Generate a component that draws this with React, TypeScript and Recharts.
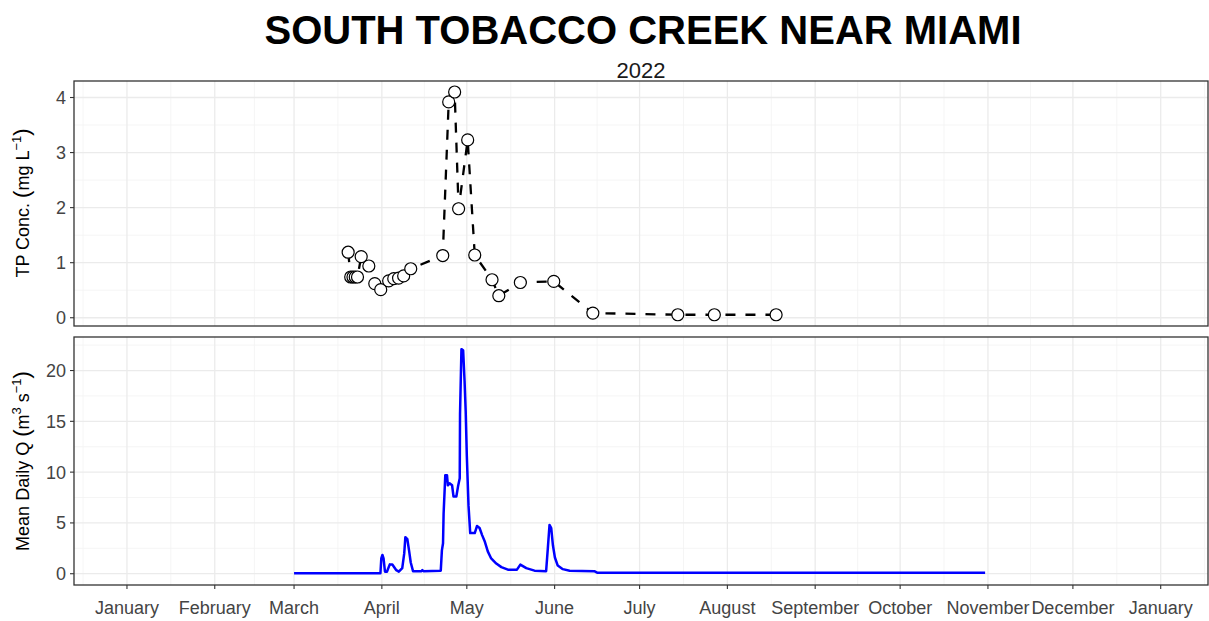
import React from 'react';
import { LineChart, Line, XAxis, YAxis, CartesianGrid } from 'recharts';

// ---- data ----
const monthTicks = [0, 31, 59, 90, 120, 151, 181, 212, 243, 273, 304, 334, 365];
const monthLabels = ['January', 'February', 'March', 'April', 'May', 'June', 'July', 'August', 'September', 'October', 'November', 'December', 'January'];

const tpDays = [78.1, 79.0, 79.8, 80.6, 81.4, 82.7, 85.4, 87.5, 89.6, 92.4, 94.2, 95.9, 97.7, 100.2, 111.5, 113.6, 115.7, 117.1, 120.3, 122.8, 128.9, 131.3, 138.9, 150.7, 164.5, 194.5, 207.4, 229.2];
const tpValues = [1.19, 0.74, 0.74, 0.74, 0.74, 1.11, 0.94, 0.62, 0.51, 0.67, 0.71, 0.72, 0.76, 0.89, 1.13, 3.92, 4.1, 1.98, 3.23, 1.14, 0.69, 0.40, 0.64, 0.66, 0.085, 0.054, 0.054, 0.054];

const qDays = [59, 89.5, 89.8, 90.2, 90.6, 91.1, 91.8, 92.8, 93.7, 95.1, 96, 97.2, 97.9, 98.3, 99, 99.6, 100.2, 101, 104, 104.3, 104.7, 110.8, 111.2, 111.6, 111.8, 112.4, 113, 113.3, 113.9, 114.8, 115.3, 116.3, 116.9, 117.5, 117.6, 118.1, 118.7, 119.2, 119.6, 120, 120.6, 121.2, 122.8, 123.6, 124.5, 125.4, 126.3, 127.4, 128.6, 130.4, 132.2, 134.5, 137.7, 138.9, 141, 143.9, 148, 148.6, 149.2, 149.8, 150.4, 151.1, 152.1, 153.9, 156.3, 165, 166, 303];
const qValues = [0.05, 0.05, 1.5, 1.85, 1.5, 0.2, 0.2, 0.92, 0.9, 0.35, 0.2, 0.55, 2.0, 3.6, 3.4, 2.3, 1.1, 0.25, 0.25, 0.35, 0.25, 0.3, 2.3, 3.0, 5.9, 9.7, 9.7, 8.7, 8.9, 8.7, 7.6, 7.6, 8.6, 9.4, 15.7, 22.1, 22.0, 19.0, 16.0, 11.6, 6.7, 4.0, 4.0, 4.7, 4.5, 3.8, 3.2, 2.2, 1.5, 1.0, 0.65, 0.4, 0.4, 0.9, 0.55, 0.3, 0.25, 2.5, 4.8, 4.5, 2.8, 1.6, 0.8, 0.45, 0.3, 0.25, 0.1, 0.1];

const tpTicks = [0, 1, 2, 3, 4];
const tpMinor = [0.5, 1.5, 2.5, 3.5];
const qTicks = [0, 5, 10, 15, 20];
const qMinor = [2.5, 7.5, 12.5, 17.5, 22.5];

// ---- derived ----
const tpData = tpDays.map((d, i) => ({ d, v: tpValues[i] }));
const qData = qDays.map((d, i) => ({ d, v: qValues[i] }));
const xDomain = [-18.7, 381.7];
const allMonthBounds = [-31, ...monthTicks, 396];
const xMinor = allMonthBounds.slice(0, -1).map((m, i) => (m + allMonthBounds[i + 1]) / 2);

const FONT = '"Liberation Sans", Arial, Helvetica, sans-serif';
const W = 1209;
const MAJOR = '#EBEBEB';
const MINOR = '#F3F3F3';

const Dot = (props: any) => {
  const { cx, cy, index } = props;
  if (cx == null || cy == null) return <g key={index} />;
  return <circle key={index} cx={cx} cy={cy} r={6} fill="#fff" stroke="#000" strokeWidth={1.2} />;
};

const tickStyle = { fontSize: 18, fill: '#444444', fontFamily: FONT };

export default function App() {
  return (
    <div style={{ position: 'absolute', left: 0, top: 0, width: W, height: 621, background: '#fff', fontFamily: FONT }}>
      <div style={{ position: 'absolute', left: 0, top: 0 }}>
        <LineChart width={W} height={330} data={tpData} margin={{ top: 81, right: 1, bottom: 4, left: 44 }}>
          <CartesianGrid vertical horizontal verticalValues={xMinor} horizontalValues={tpMinor} stroke={MINOR} strokeWidth={0.8} />
          <CartesianGrid vertical horizontal verticalValues={monthTicks} horizontalValues={tpTicks} stroke={MAJOR} strokeWidth={1.3} />
          <XAxis dataKey="d" type="number" domain={xDomain} ticks={monthTicks} hide allowDataOverflow />
          <YAxis type="number" domain={[-0.15, 4.3]} ticks={tpTicks} width={30} tickSize={4} tickMargin={4}
            axisLine={false} tickLine={{ stroke: '#333', strokeWidth: 1.1 }} tick={tickStyle} interval={0} allowDataOverflow />
          <Line dataKey="v" type="linear" stroke="#000" strokeWidth={2.3} strokeDasharray="10 10"
            dot={Dot} activeDot={false} isAnimationActive={false} />
        </LineChart>
      </div>
      <div style={{ position: 'absolute', left: 0, top: 330 }}>
        <LineChart width={W} height={291} data={qData} margin={{ top: 7, right: 1, bottom: 0, left: 44 }}>
          <CartesianGrid vertical horizontal verticalValues={xMinor} horizontalValues={qMinor} stroke={MINOR} strokeWidth={0.8} />
          <CartesianGrid vertical horizontal verticalValues={monthTicks} horizontalValues={qTicks} stroke={MAJOR} strokeWidth={1.3} />
          <XAxis dataKey="d" type="number" domain={xDomain} ticks={monthTicks} interval={0} height={36}
            tickFormatter={(v: number) => monthLabels[monthTicks.indexOf(v)]}
            tickSize={4} tickMargin={12} axisLine={false} tickLine={{ stroke: '#333', strokeWidth: 1.1 }} tick={tickStyle} allowDataOverflow />
          <YAxis type="number" domain={[-1.11, 23.3]} ticks={qTicks} width={30} tickSize={4} tickMargin={4}
            axisLine={false} tickLine={{ stroke: '#333', strokeWidth: 1.1 }} tick={tickStyle} interval={0} allowDataOverflow />
          <Line dataKey="v" type="linear" stroke="#0000FF" strokeWidth={2.5} dot={false} activeDot={false}
            strokeLinejoin="round" isAnimationActive={false} />
        </LineChart>
      </div>
      <svg width={W} height={621} style={{ position: 'absolute', left: 0, top: 0, pointerEvents: 'none' }}>
        <rect x={74} y={81} width={1134} height={245} fill="none" stroke="#333" strokeWidth={1.3} />
        <rect x={74} y={337} width={1134} height={248} fill="none" stroke="#333" strokeWidth={1.3} />
        <text x={643} y={44} textAnchor="middle" fontSize={40} fontWeight="bold" fill="#000" fontFamily={FONT}>SOUTH TOBACCO CREEK NEAR MIAMI</text>
        <text x={641} y={78} textAnchor="middle" fontSize={22} fill="#1a1a1a" fontFamily={FONT}>2022</text>
        <text transform="translate(29,203) rotate(-90)" textAnchor="middle" fontSize={18} fill="#000" fontFamily={FONT}>
          TP Conc. <tspan fontSize={22}>(</tspan>mg L<tspan dy={-8} fontSize={13}>−1</tspan><tspan dy={8} fontSize={22}>)</tspan>
        </text>
        <text transform="translate(29,461) rotate(-90)" textAnchor="middle" fontSize={18} fill="#000" fontFamily={FONT}>
          Mean Daily Q <tspan fontSize={22}>(</tspan>m<tspan dy={-8} fontSize={13}>3</tspan><tspan dy={8}> s</tspan><tspan dy={-8} fontSize={13}>−1</tspan><tspan dy={8} fontSize={22}>)</tspan>
        </text>
      </svg>
    </div>
  );
}
